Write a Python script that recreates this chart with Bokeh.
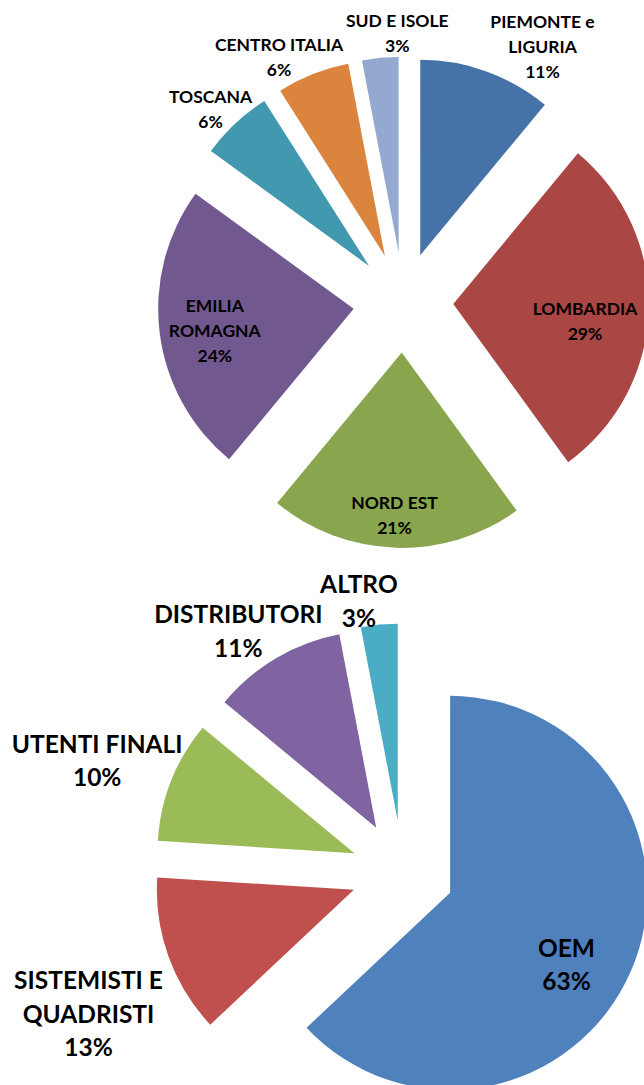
import numpy as np
from bokeh.plotting import figure
from bokeh.models import ColumnDataSource, Range1d
from bokeh.core.properties import value
from bokeh.embed import file_html
from bokeh.resources import INLINE

# ---------------- data ----------------
regions = ["PIEMONTE e LIGURIA", "LOMBARDIA", "NORD EST", "EMILIA ROMAGNA",
           "TOSCANA", "CENTRO ITALIA", "SUD E ISOLE"]
region_values = [11, 29, 21, 24, 6, 6, 3]
region_label_lines = [["PIEMONTE e", "LIGURIA"], ["LOMBARDIA"], ["NORD EST"],
                      ["EMILIA", "ROMAGNA"], ["TOSCANA"], ["CENTRO ITALIA"], ["SUD E ISOLE"]]

customers = ["OEM", "SISTEMISTI E QUADRISTI", "UTENTI FINALI", "DISTRIBUTORI", "ALTRO"]
customer_values = [63, 13, 10, 11, 3]
customer_label_lines = [["OEM"], ["SISTEMISTI E", "QUADRISTI"], ["UTENTI FINALI"],
                        ["DISTRIBUTORI"], ["ALTRO"]]

# ---------------- styles / layout ----------------
region_colors = ["#4572A7", "#AA4643", "#89A54E", "#71588F", "#4198AF", "#DB843D", "#93A9CF"]
customer_colors = ["#4F81BD", "#C0504D", "#9BBB59", "#8064A2", "#4BACC6"]

W, H = 644, 1085


def dy(img_y):
    return H - img_y


TOP = dict(cx=402.8, cy=dy(301.9), r=195.5, explode=50.0, font="17.5px", step=24.8,
           label_pos=[(542, 21.4), (584.5, 307.9), (394, 501.8), (214.3, 305.4),
                      (210, 96.4), (278.5, 43.9), (396.8, 20.4)])
BOT = dict(cx=402.1, cy=dy(871.8), r=197.0, explode=51.8, font="24.5px", step=33.5,
           label_pos=[(566, 946.7), (88, 979.3), (96.7, 742.7), (237.8, 613.3),
                      (358.4, 583.3)])

p = figure(width=W, height=H, output_backend="svg", toolbar_location=None,
           x_range=Range1d(0, W), y_range=Range1d(0, H),
           x_axis_location=None, y_axis_location=None, min_border=0,
           background_fill_color="white", border_fill_color="white")
p.outline_line_color = None
p.grid.visible = False


def draw_pie(vals, colors, lines, cfg):
    vals = np.asarray(vals, dtype=float)
    frac = vals / vals.sum()
    cum = np.concatenate([[0.0], np.cumsum(frac)])
    th1 = 2 * np.pi * cum[:-1]   # clockwise from 12 o'clock
    th2 = 2 * np.pi * cum[1:]
    mid = (th1 + th2) / 2
    xs = cfg["cx"] + cfg["explode"] * np.sin(mid)
    ys = cfg["cy"] + cfg["explode"] * np.cos(mid)
    src = ColumnDataSource(dict(x=xs, y=ys,
                                start=np.pi / 2 - th2, end=np.pi / 2 - th1,
                                color=colors))
    p.wedge(x="x", y="y", radius=cfg["r"], start_angle="start", end_angle="end",
            direction="anticlock", fill_color="color", line_color=None, source=src)

    tx, ty, tt = [], [], []
    for i, v in enumerate(vals):
        txt = list(lines[i]) + [f"{int(v)}%"]
        x0, y0 = cfg["label_pos"][i]
        for k, t in enumerate(txt):
            tx.append(x0)
            ty.append(dy(y0 + k * cfg["step"]))
            tt.append(t)
    p.text(x=tx, y=ty, text=tt, text_align="center", text_baseline="middle",
           text_font=value("Lato"), text_font_style="bold",
           text_font_size=cfg["font"], text_color="#000000")


draw_pie(region_values, region_colors, region_label_lines, TOP)
draw_pie(customer_values, customer_colors, customer_label_lines, BOT)

open("out.html", "w").write(file_html(p, INLINE))
